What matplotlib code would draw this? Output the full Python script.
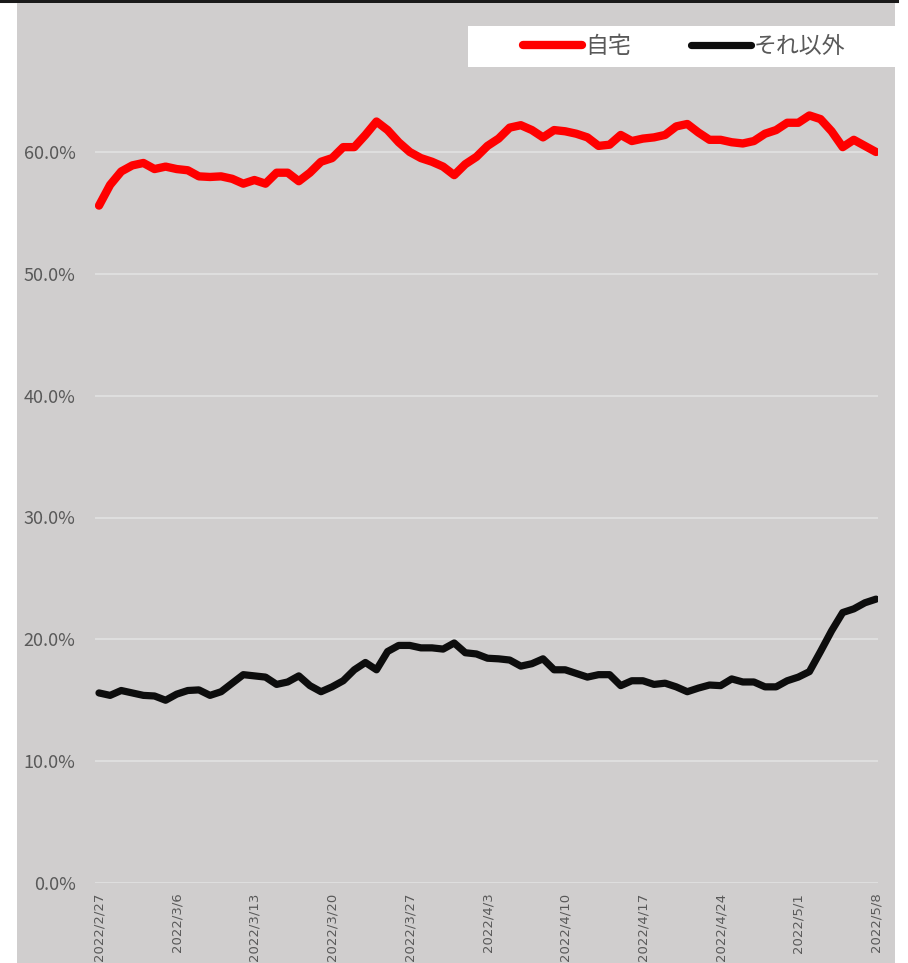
import numpy as np
import pandas as pd
import matplotlib
matplotlib.use("Agg")
import matplotlib.pyplot as plt
from matplotlib.patches import Rectangle
from matplotlib.lines import Line2D

plt.rcParams['font.family'] = ['Noto Sans CJK JP', 'DejaVu Sans']

dates = pd.date_range("2022-02-27", "2022-05-08", freq="D")
series_names = ["自宅", "それ以外"]
home = [55.6, 57.3, 58.4, 58.9, 59.1, 58.6, 58.8, 58.6, 58.5, 58.0,
        57.95, 58.0, 57.8, 57.4, 57.7, 57.4, 58.3, 58.3, 57.6, 58.3,
        59.2, 59.5, 60.4, 60.4, 61.4, 62.5, 61.8, 60.8, 60.0, 59.5,
        59.2, 58.8, 58.1, 59.0, 59.6, 60.5, 61.1, 62.0, 62.2, 61.8,
        61.2, 61.8, 61.7, 61.5, 61.2, 60.5, 60.6, 61.4, 60.9, 61.1,
        61.2, 61.4, 62.1, 62.3, 61.6, 61.0, 61.0, 60.8, 60.7, 60.9,
        61.5, 61.8, 62.4, 62.4, 63.0, 62.7, 61.7, 60.4, 61.0, 60.5,
        60.0]
other = [15.6, 15.4, 15.8, 15.6, 15.4, 15.35, 15.0, 15.5, 15.8, 15.85,
         15.4, 15.7, 16.4, 17.1, 17.0, 16.9, 16.3, 16.5, 17.0, 16.2,
         15.7, 16.1, 16.6, 17.5, 18.1, 17.5, 19.0, 19.5, 19.5, 19.3,
         19.3, 19.2, 19.7, 18.9, 18.8, 18.45, 18.4, 18.3, 17.8, 18.0,
         18.4, 17.5, 17.5, 17.2, 16.9, 17.1, 17.1, 16.2, 16.6, 16.6,
         16.3, 16.4, 16.1, 15.7, 16.0, 16.25, 16.2, 16.75, 16.5, 16.5,
         16.1, 16.1, 16.6, 16.9, 17.35, 19.0, 20.7, 22.2, 22.5, 23.0,
         23.3]
y_ticks = [0, 10, 20, 30, 40, 50, 60]
colors = ["#FF0000", "#0D0D0D"]

W, H = 908, 963
fig = plt.figure(figsize=(W / 100, H / 100), dpi=100)
fig.patch.set_facecolor("white")

# gray chart background
fig.patches.append(Rectangle((17 / W, 0), (895 - 17) / W, (H - 3) / H,
                             transform=fig.transFigure, facecolor="#D0CECE",
                             edgecolor="none", zorder=0))
# dark top border line
fig.lines.append(Line2D([0, 897 / W], [1 - 1.2 / H, 1 - 1.2 / H],
                        transform=fig.transFigure, color="#1a1a1a", lw=2.2, zorder=0))
# legend box
fig.patches.append(Rectangle((468 / W, 1 - 67 / H), (895 - 468) / W, 41 / H,
                             transform=fig.transFigure, facecolor="white",
                             edgecolor="none", zorder=1))

ax_left, ax_right = 95, 878
ax_bottom, ax_top = 883, 3
ax = fig.add_axes([ax_left / W, (H - ax_bottom) / H,
                   (ax_right - ax_left) / W, (ax_bottom - ax_top) / H])
ax.set_zorder(2)
ax.set_facecolor("none")

x = np.arange(len(dates))
px_per_day = (876 - 99) / (len(dates) - 1)
ax.set_xlim(-(99 - ax_left) / px_per_day, (len(dates) - 1) + (ax_right - 876) / px_per_day)
ax.set_ylim(0, (ax_bottom - ax_top) / ((883 - 152) / 60.0))

for v in y_ticks:
    ax.axhline(v, color="#E2E2E2", lw=1.2, zorder=1)

ax.plot(x, home, color=colors[0], lw=6.0, solid_capstyle="round",
        solid_joinstyle="round", label=series_names[0], zorder=3)
ax.plot(x, other, color=colors[1], lw=5.2, solid_capstyle="round",
        solid_joinstyle="round", label=series_names[1], zorder=3)

ax.set_yticks(y_ticks)
ax.set_yticklabels([f"{v:.1f}%" for v in y_ticks], fontsize=13, color="#595959")
tick_idx = list(range(0, len(dates), 7))
ax.set_xticks(tick_idx)
ax.set_xticklabels([f"{dates[i].year}/{dates[i].month}/{dates[i].day}" for i in tick_idx],
                   rotation=90, fontsize=9.5, color="#595959", family="DejaVu Sans",
                   va="top")
ax.tick_params(axis="y", length=0, pad=14)
ax.tick_params(axis="x", length=0, pad=7)
for s in ax.spines.values():
    s.set_visible(False)

h, l = ax.get_legend_handles_labels()
leg = fig.legend(h, l, loc="center", bbox_to_anchor=(684 / W, 1 - 46.5 / H),
                 ncol=2, frameon=False, fontsize=16.5, handlelength=2.6,
                 handletextpad=0.15, columnspacing=2.6, borderpad=0)
leg.set_zorder(10)
for t in leg.get_texts():
    t.set_color("#595959")

fig.savefig("out.png", dpi=100, facecolor="white")
